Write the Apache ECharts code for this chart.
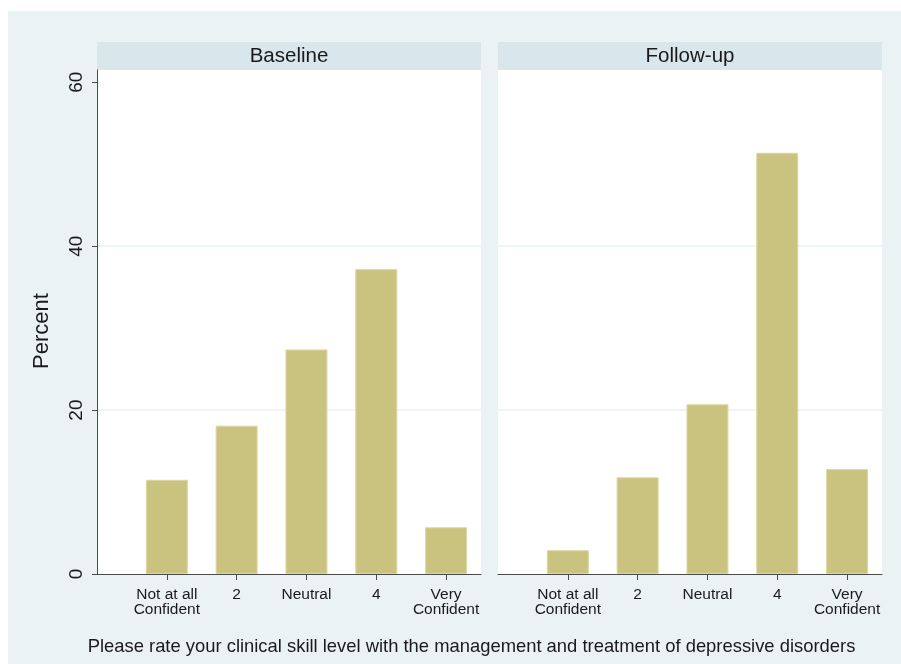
<!DOCTYPE html>
<html>
<head>
<meta charset="utf-8">
<script src="https://cdn.jsdelivr.net/npm/echarts@6/dist/echarts.min.js"></script>
<style>
  html, body { margin: 0; padding: 0; background: #ffffff; }
  #chart { width: 901px; height: 664px; }
</style>
</head>
<body>
<div id="chart"></div>
<script>
// Confidence rating categories (positions 1..5 on the x scale)
const categories = ['Not at all\nConfident', '2', 'Neutral', '4', 'Very\nConfident'];
const categoryPositions = [1, 2, 3, 4, 5];
const panelTitles = ['Baseline', 'Follow-up'];
// Percent of respondents per rating
const baselinePercent = [11.5, 18.1, 27.4, 37.2, 5.7];
const followupPercent = [2.9, 11.8, 20.7, 51.4, 12.8];
const yTicks = [0, 20, 40, 60];
const yAxisTitle = 'Percent';
const xAxisTitle = 'Please rate your clinical skill level with the management and treatment of depressive disorders';

const FONT = '"Liberation Sans", Arial, sans-serif';
const BG = '#eaf2f3';
const STRIP = '#d9e6eb';
const TEXT = '#1a1a1a';
const AXIS = '#4a4a4a';
const BAR = '#cac37f';
const BAR_EDGE = '#dcd7a2';

const grids = [
  { left: 97, right: 420, top: 70, bottom: 90 },
  { left: 498, right: 19, top: 70, bottom: 90 }
];

function xAxisFor(i) {
  return {
    type: 'value', gridIndex: i, min: 0, max: 5.5,
    axisLine: { show: true, onZero: false, lineStyle: { color: AXIS, width: 1 } },
    axisTick: { show: true, customValues: categoryPositions, length: 6, lineStyle: { color: AXIS } },
    axisLabel: {
      show: true, customValues: categoryPositions, margin: 13,
      fontFamily: FONT, fontSize: 15.5, lineHeight: 15, color: TEXT,
      formatter: v => categories[categoryPositions.indexOf(Math.round(v))] || ''
    },
    splitLine: { show: false }
  };
}

function yAxisFor(i) {
  const first = i === 0;
  return {
    type: 'value', gridIndex: i, min: 0, max: 61.5,
    axisLine: { show: first, lineStyle: { color: AXIS, width: 1 } },
    axisTick: { show: first, customValues: yTicks, length: 5, lineStyle: { color: AXIS } },
    axisLabel: {
      show: first, customValues: yTicks, rotate: 90, margin: 11,
      fontFamily: FONT, fontSize: 19, color: TEXT
    },
    splitLine: { show: true, showMinLine: false, showMaxLine: false, lineStyle: { color: BG, width: 1.5 } }
  };
}

function barSeries(i, values) {
  return {
    type: 'bar', xAxisIndex: i, yAxisIndex: i,
    data: values.map((v, k) => [categoryPositions[k], v]),
    barWidth: 42,
    itemStyle: { color: BAR, borderColor: BAR_EDGE, borderWidth: 1 },
    silent: true
  };
}

const chart = echarts.init(document.getElementById('chart'), null, { renderer: 'canvas' });

const stripGraphics = grids.map((g, i) => {
  const x0 = g.left, x1 = 901 - g.right;
  return {
    type: 'group', z: 5,
    children: [
      { type: 'rect', shape: { x: x0, y: 42, width: x1 - x0, height: 28 }, style: { fill: STRIP } },
      { type: 'text', x: (x0 + x1) / 2, y: 56.5,
        style: { text: panelTitles[i], fontFamily: FONT, fontSize: 20.5, fill: TEXT, align: 'center', verticalAlign: 'middle' } }
    ]
  };
});

chart.setOption({
  backgroundColor: '#ffffff',
  animation: false,
  graphic: [
    { type: 'rect', z: -10, shape: { x: 8, y: 11, width: 893, height: 653 }, style: { fill: BG } },
    ...stripGraphics,
    { type: 'text', x: 42, y: 331, rotation: Math.PI / 2,
      style: { text: yAxisTitle, fontFamily: FONT, fontSize: 22, fill: TEXT, align: 'center', verticalAlign: 'middle' } },
    { type: 'text', x: 471.5, y: 647,
      style: { text: xAxisTitle, fontFamily: FONT, fontSize: 18.4, fill: TEXT, align: 'center', verticalAlign: 'middle' } }
  ],
  grid: grids.map(g => Object.assign({ show: true, backgroundColor: '#ffffff', borderWidth: 0, containLabel: false }, g)),
  xAxis: [xAxisFor(0), xAxisFor(1)],
  yAxis: [yAxisFor(0), yAxisFor(1)],
  series: [barSeries(0, baselinePercent), barSeries(1, followupPercent)]
});
</script>
</body>
</html>
